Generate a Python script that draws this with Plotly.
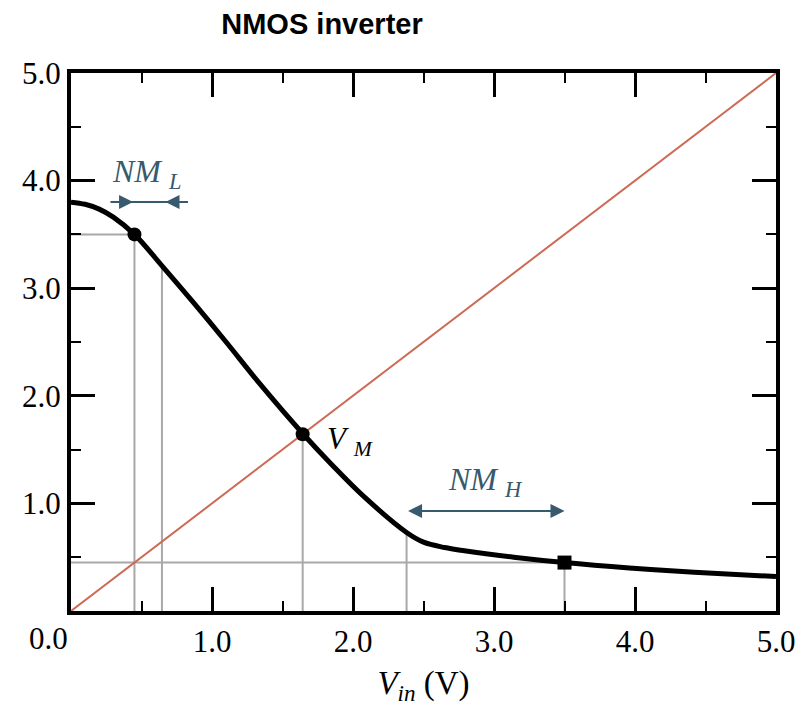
import plotly.graph_objects as go

# ---- data ----
vin = [0.0, 0.10, 0.20, 0.30, 0.45, 0.644, 0.866, 1.10, 1.334, 1.643, 1.85, 2.08, 2.38,
       2.50, 2.65, 2.79, 3.14, 3.50, 3.96, 4.42, 5.0]
vout = [3.80, 3.78, 3.735, 3.66, 3.50, 3.21, 2.87, 2.50, 2.12, 1.65, 1.36, 1.06, 0.73,
        0.64, 0.59, 0.56, 0.50, 0.45, 0.40, 0.36, 0.32]

diag_x = [0.0, 5.0]
diag_y = [0.0, 5.0]

# critical points
VOL, VOH = 0.45, 3.50
VIL, VIL_out = 0.645, 3.21
VM = 1.643
VIH, VIH_out = 2.38, 0.73
VIN_HIGH = 3.50

dots_x = [VOL, VM]
dots_y = [VOH, VM]
square_x = [VIN_HIGH]
square_y = [VOL]

# noise margin markers
NML_x = [0.28, 0.83]
NML_heads = [0.44, 0.67]
NML_y = 3.80
NMH_x = [VIH, VIN_HIGH]
NMH_y = 0.93

# guide segments (x pairs, y pairs)
guide_segments = [
    ([0.0, VOL], [VOH, VOH]),
    ([VOL, VOL], [VOH, 0.0]),
    ([VIL, VIL], [VIL_out, 0.0]),
    ([VM, VM], [VM, 0.0]),
    ([VIH, VIH], [VIH_out, 0.0]),
    ([0.0, VIN_HIGH], [VOL, VOL]),
    ([VIN_HIGH, VIN_HIGH], [VOL, 0.0]),
]

x_ticks = [0, 1, 2, 3, 4, 5]
x_ticklabels = ["", "1.0", "2.0", "3.0", "4.0", "5.0"]
y_ticks = [1, 2, 3, 4, 5]
y_ticklabels = ["1.0", "2.0", "3.0", "4.0", "5.0"]

NM_COLOR = "#375a6e"
SERIF = "Liberation Serif"

gx, gy = [], []
for sx, sy in guide_segments:
    gx += sx + [None]
    gy += sy + [None]

fig = go.Figure()
fig.add_trace(go.Scatter(x=gx, y=gy, mode="lines",
                         line=dict(color="#a8a8a8", width=2), hoverinfo="skip"))
fig.add_trace(go.Scatter(x=diag_x, y=diag_y, mode="lines",
                         line=dict(color="#cd6a55", width=2), hoverinfo="skip"))
fig.add_trace(go.Scatter(x=NML_x, y=[NML_y, NML_y], mode="lines",
                         line=dict(color=NM_COLOR, width=2), hoverinfo="skip"))
fig.add_trace(go.Scatter(x=vin, y=vout, mode="lines",
                         line=dict(color="black", width=5, shape="spline", smoothing=1.0),
                         hoverinfo="skip"))
fig.add_trace(go.Scatter(x=dots_x, y=dots_y, mode="markers",
                         marker=dict(color="black", size=14, symbol="circle"), hoverinfo="skip"))
fig.add_trace(go.Scatter(x=square_x, y=square_y, mode="markers",
                         marker=dict(color="black", size=14, symbol="square"), hoverinfo="skip"))

annotations = [
    # NM_L arrows (pointing inward)
    dict(x=NML_heads[0], y=NML_y, ax=NML_x[0], ay=NML_y, xref="x", yref="y", axref="x", ayref="y",
         text="", showarrow=True, arrowhead=2, arrowsize=1.4, arrowwidth=2, arrowcolor=NM_COLOR),
    dict(x=NML_heads[1], y=NML_y, ax=NML_x[1], ay=NML_y, xref="x", yref="y", axref="x", ayref="y",
         text="", showarrow=True, arrowhead=2, arrowsize=1.4, arrowwidth=2, arrowcolor=NM_COLOR),
    # NM_H double arrow
    dict(x=NMH_x[1], y=NMH_y, ax=NMH_x[0], ay=NMH_y, xref="x", yref="y", axref="x", ayref="y",
         text="", showarrow=True, arrowhead=2, startarrowhead=2, arrowside="end+start",
         arrowsize=1.4, startarrowsize=1.4, arrowwidth=2, arrowcolor=NM_COLOR),
    dict(x=0.535, y=4.07, xref="x", yref="y", showarrow=False,
         text="<i>NM</i> <sub><i>L</i></sub>", font=dict(family=SERIF, size=32, color=NM_COLOR)),
    dict(x=2.94, y=1.20, xref="x", yref="y", showarrow=False,
         text="<i>NM</i> <sub><i>H</i></sub>", font=dict(family=SERIF, size=32, color=NM_COLOR)),
    dict(x=1.80, y=1.58, xref="x", yref="y", showarrow=False, xanchor="left",
         text="<i>V</i> <sub><i>M</i></sub>", font=dict(family=SERIF, size=31, color="black")),
    # corner "0.0" label, offset left as in the reference
    dict(x=0, y=0, xref="x", yref="y", showarrow=False, xanchor="center", yanchor="top",
         xshift=-23, yshift=-8, text="0.0", font=dict(family=SERIF, size=31, color="black")),
]

fig.update_layout(
    width=807, height=708,
    margin=dict(l=71, r=26, t=73, b=96),
    paper_bgcolor="white", plot_bgcolor="white",
    showlegend=False,
    title=dict(text="<b>NMOS inverter</b>", x=322/807, xanchor="center", xref="container",
               y=1 - 24/708, yanchor="middle", yref="container",
               font=dict(family="Liberation Sans", size=29, color="black")),
    annotations=annotations,
)

axis_common = dict(
    showline=True, linecolor="black", linewidth=4, mirror="ticks",
    ticks="inside", ticklen=24, tickwidth=2.5, tickcolor="black",
    showgrid=False, zeroline=False,
    minor=dict(dtick=0.5, ticks="inside", ticklen=10, tickwidth=1.5, tickcolor="black", showgrid=False),
    tickfont=dict(family=SERIF, size=31, color="black"),
)

fig.update_xaxes(range=[0, 5], tickvals=x_ticks, ticktext=x_ticklabels,
                 title=dict(text="<i>V</i><sub><i>in</i></sub> (V)",
                            font=dict(family=SERIF, size=33, color="black"), standoff=14),
                 **axis_common)
fig.update_yaxes(range=[0, 5], tickvals=y_ticks, ticktext=y_ticklabels, **axis_common)

fig.write_html("out.html")
